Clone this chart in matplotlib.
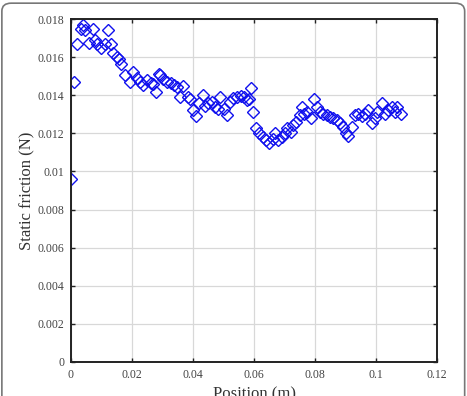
import matplotlib
matplotlib.use("Agg")
import matplotlib.pyplot as plt
from matplotlib.patches import FancyBboxPatch

# position (m) and static friction (N)
position = [
    0.0000, 0.0010, 0.0020, 0.0032, 0.0040, 0.0045, 0.0060, 0.0071, 0.0078, 0.0086,
    0.0099, 0.0110, 0.0122, 0.0131, 0.0139, 0.0150, 0.0158, 0.0165, 0.0177, 0.0193,
    0.0202, 0.0215, 0.0226, 0.0235, 0.0250, 0.0261, 0.0270, 0.0279, 0.0288, 0.0292,
    0.0303, 0.0316, 0.0327, 0.0338, 0.0349, 0.0357, 0.0368, 0.0385, 0.0390, 0.0399,
    0.0410, 0.0421, 0.0432, 0.0440, 0.0450, 0.0461, 0.0472, 0.0483, 0.0490, 0.0502,
    0.0512, 0.0521, 0.0532, 0.0545, 0.0556, 0.0567, 0.0576, 0.0585, 0.0589, 0.0598,
    0.0607, 0.0617, 0.0628, 0.0639, 0.0650, 0.0661, 0.0669, 0.0680, 0.0691, 0.0702,
    0.0709, 0.0720, 0.0729, 0.0738, 0.0749, 0.0756, 0.0764, 0.0775, 0.0786, 0.0797,
    0.0805, 0.0816, 0.0827, 0.0838, 0.0849, 0.0860, 0.0871, 0.0882, 0.0893, 0.0902,
    0.0909, 0.0920, 0.0931, 0.0942, 0.0953, 0.0964, 0.0975, 0.0986, 0.0997, 0.1004,
    0.1019, 0.1030, 0.1040, 0.1051, 0.1062, 0.1070, 0.1081,
]
friction = [
    0.00960, 0.01470, 0.01667, 0.01750, 0.01768, 0.01740, 0.01675, 0.01750, 0.01690, 0.01667,
    0.01650, 0.01670, 0.01740, 0.01667, 0.01620, 0.01600, 0.01590, 0.01563, 0.01506, 0.01470,
    0.01520, 0.01490, 0.01470, 0.01453, 0.01480, 0.01462, 0.01460, 0.01418, 0.01510, 0.01506,
    0.01483, 0.01470, 0.01462, 0.01453, 0.01444, 0.01390, 0.01447, 0.01390, 0.01378, 0.01320,
    0.01290, 0.01357, 0.01400, 0.01343, 0.01357, 0.01365, 0.01340, 0.01330, 0.01390, 0.01330,
    0.01296, 0.01365, 0.01383, 0.01390, 0.01396, 0.01390, 0.01375, 0.01380, 0.01440, 0.01313,
    0.01226, 0.01203, 0.01182, 0.01165, 0.01150, 0.01168, 0.01203, 0.01165, 0.01182, 0.01203,
    0.01226, 0.01208, 0.01243, 0.01260, 0.01296, 0.01340, 0.01304, 0.01310, 0.01280, 0.01378,
    0.01340, 0.01310, 0.01304, 0.01296, 0.01287, 0.01280, 0.01270, 0.01256, 0.01235, 0.01203,
    0.01186, 0.01235, 0.01296, 0.01304, 0.01290, 0.01304, 0.01320, 0.01256, 0.01280, 0.01313,
    0.01357, 0.01304, 0.01325, 0.01340, 0.01313, 0.01340, 0.01304,
]
xticks = [0, 0.02, 0.04, 0.06, 0.08, 0.1, 0.12]
xticklabels = ["0", "0.02", "0.04", "0.06", "0.08", "0.1", "0.12"]
yticks = [0, 0.002, 0.004, 0.006, 0.008, 0.01, 0.012, 0.014, 0.016, 0.018]
yticklabels = ["0", "0.002", "0.004", "0.006", "0.008", "0.01", "0.012", "0.014", "0.016", "0.018"]

plt.rcParams["font.family"] = ["Liberation Serif", "DejaVu Serif"]

fig = plt.figure(figsize=(4.67, 3.96), dpi=100)
ax = fig.add_axes([0.152, 0.086, 0.784, 0.866])

ax.plot(position, friction, linestyle="none", marker="D", markersize=6,
        markerfacecolor="none", markeredgecolor="#1010ee", markeredgewidth=1.0)

ax.set_xlim(0, 0.12)
ax.set_ylim(0, 0.018)
ax.set_xticks(xticks)
ax.set_xticklabels(xticklabels)
ax.set_yticks(yticks)
ax.set_yticklabels(yticklabels)
ax.tick_params(direction="in", top=True, right=True, length=3, width=1,
               labelsize=8.5, colors="#222222", labelcolor="#444444")
ax.tick_params(axis="x", pad=5)
ax.tick_params(axis="y", pad=5)
ax.grid(True, color="#d8d8d8", linewidth=0.9)
ax.set_axisbelow(True)
for sp in ax.spines.values():
    sp.set_linewidth(1.4)
    sp.set_color("#222222")

ax.set_xlabel("Position (m)", fontsize=12, color="#333333", labelpad=4)
ax.set_ylabel("Static friction (N)", fontsize=12, color="#333333", labelpad=1)

# rounded frame around the figure
frame = FancyBboxPatch((0.004, -0.05), 0.991, 1.042, transform=fig.transFigure,
                       boxstyle="round,pad=0,rounding_size=0.02",
                       facecolor="none", edgecolor="#777777", linewidth=1.2)
fig.patches.append(frame)

fig.savefig("out.png", dpi=100)
